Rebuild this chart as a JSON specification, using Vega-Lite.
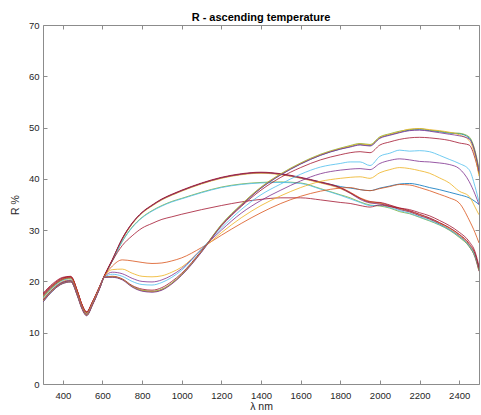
{
"$schema": "https://vega.github.io/schema/vega-lite/v6.json",
"width": 436, "height": 359,
"autosize": {"type": "none"},
"padding": {"left": 43, "top": 25, "right": 2, "bottom": 31},
"background": "white",
"title": {"text": "R - ascending temperature", "fontSize": 11, "fontWeight": "bold", "font": "Liberation Sans", "color": "#000000", "offset": -3, "anchor": "middle", "frame": "group"},
"data": {"values": [
{"s":"s01","x":300,"y":17.0},{"s":"s01","x":350,"y":19.0},{"s":"s01","x":400,"y":20.4},{"s":"s01","x":440,"y":20.7},{"s":"s01","x":475,"y":17.8},{"s":"s01","x":495,"y":15.5},{"s":"s01","x":520,"y":13.9},{"s":"s01","x":550,"y":15.9},{"s":"s01","x":585,"y":18.8},{"s":"s01","x":610,"y":21.1},
{"s":"s01","x":650,"y":24.2},{"s":"s01","x":700,"y":28.3},{"s":"s01","x":750,"y":31.3},{"s":"s01","x":800,"y":33.4},{"s":"s01","x":850,"y":34.8},{"s":"s01","x":900,"y":36.0},{"s":"s01","x":950,"y":36.9},{"s":"s01","x":1000,"y":37.7},{"s":"s01","x":1100,"y":39.1},{"s":"s01","x":1200,"y":40.2},{"s":"s01","x":1300,"y":40.9},{"s":"s01","x":1400,"y":41.2},{"s":"s01","x":1500,"y":40.9},{"s":"s01","x":1600,"y":40.2},{"s":"s01","x":1700,"y":39.4},{"s":"s01","x":1800,"y":38.5},
{"s":"s01","x":1850,"y":38.2},{"s":"s01","x":1900,"y":37.9},{"s":"s01","x":1950,"y":37.7},{"s":"s01","x":2000,"y":38.2},{"s":"s01","x":2050,"y":38.6},{"s":"s01","x":2100,"y":39.0},{"s":"s01","x":2150,"y":39.1},{"s":"s01","x":2200,"y":38.8},{"s":"s01","x":2250,"y":38.3},{"s":"s01","x":2300,"y":37.9},{"s":"s01","x":2350,"y":37.4},{"s":"s01","x":2400,"y":36.9},{"s":"s01","x":2450,"y":36.3},{"s":"s01","x":2480,"y":35.6},{"s":"s01","x":2500,"y":35.0},

{"s":"s02","x":300,"y":17.4},{"s":"s02","x":350,"y":19.3},{"s":"s02","x":400,"y":20.6},{"s":"s02","x":440,"y":20.9},{"s":"s02","x":475,"y":17.9},{"s":"s02","x":495,"y":15.6},{"s":"s02","x":520,"y":14.0},{"s":"s02","x":550,"y":16.0},{"s":"s02","x":585,"y":18.9},{"s":"s02","x":610,"y":21.1},
{"s":"s02","x":650,"y":24.2},{"s":"s02","x":700,"y":28.3},{"s":"s02","x":750,"y":31.3},{"s":"s02","x":800,"y":33.4},{"s":"s02","x":850,"y":34.8},{"s":"s02","x":900,"y":36.0},{"s":"s02","x":950,"y":36.9},{"s":"s02","x":1000,"y":37.7},{"s":"s02","x":1100,"y":39.1},{"s":"s02","x":1200,"y":40.2},{"s":"s02","x":1300,"y":40.9},{"s":"s02","x":1400,"y":41.2},{"s":"s02","x":1500,"y":40.9},{"s":"s02","x":1600,"y":40.2},{"s":"s02","x":1700,"y":39.3},{"s":"s02","x":1800,"y":38.3},
{"s":"s02","x":1850,"y":37.4},{"s":"s02","x":1900,"y":36.3},{"s":"s02","x":1950,"y":35.6},{"s":"s02","x":2000,"y":35.3},{"s":"s02","x":2050,"y":34.8},{"s":"s02","x":2100,"y":34.2},{"s":"s02","x":2150,"y":33.7},{"s":"s02","x":2200,"y":33.0},{"s":"s02","x":2250,"y":32.3},{"s":"s02","x":2300,"y":31.4},{"s":"s02","x":2350,"y":30.4},{"s":"s02","x":2400,"y":29.1},{"s":"s02","x":2450,"y":27.2},{"s":"s02","x":2480,"y":25.2},{"s":"s02","x":2500,"y":22.3},

{"s":"s03","x":300,"y":17.2},{"s":"s03","x":350,"y":19.2},{"s":"s03","x":400,"y":20.5},{"s":"s03","x":440,"y":20.8},{"s":"s03","x":475,"y":17.8},{"s":"s03","x":495,"y":15.5},{"s":"s03","x":520,"y":13.9},{"s":"s03","x":550,"y":15.9},{"s":"s03","x":585,"y":18.8},{"s":"s03","x":610,"y":21.0},
{"s":"s03","x":650,"y":24.1},{"s":"s03","x":700,"y":28.2},{"s":"s03","x":750,"y":31.2},{"s":"s03","x":800,"y":33.3},{"s":"s03","x":850,"y":34.7},{"s":"s03","x":900,"y":35.9},{"s":"s03","x":950,"y":36.8},{"s":"s03","x":1000,"y":37.6},{"s":"s03","x":1100,"y":39.0},{"s":"s03","x":1200,"y":40.1},{"s":"s03","x":1300,"y":40.8},{"s":"s03","x":1400,"y":41.1},{"s":"s03","x":1500,"y":40.8},{"s":"s03","x":1600,"y":40.1},{"s":"s03","x":1700,"y":39.2},{"s":"s03","x":1800,"y":38.1},
{"s":"s03","x":1850,"y":37.2},{"s":"s03","x":1900,"y":36.2},{"s":"s03","x":1950,"y":35.4},{"s":"s03","x":2000,"y":35.2},{"s":"s03","x":2050,"y":34.6},{"s":"s03","x":2100,"y":34.1},{"s":"s03","x":2150,"y":33.5},{"s":"s03","x":2200,"y":32.9},{"s":"s03","x":2250,"y":32.1},{"s":"s03","x":2300,"y":31.3},{"s":"s03","x":2350,"y":30.2},{"s":"s03","x":2400,"y":28.9},{"s":"s03","x":2450,"y":27.0},{"s":"s03","x":2480,"y":25.0},{"s":"s03","x":2500,"y":22.0},

{"s":"s04","x":300,"y":17.3},{"s":"s04","x":350,"y":19.2},{"s":"s04","x":400,"y":20.5},{"s":"s04","x":440,"y":20.8},{"s":"s04","x":475,"y":17.9},{"s":"s04","x":495,"y":15.6},{"s":"s04","x":520,"y":14.0},{"s":"s04","x":550,"y":16.0},{"s":"s04","x":585,"y":18.9},{"s":"s04","x":610,"y":21.1},
{"s":"s04","x":650,"y":24.2},{"s":"s04","x":700,"y":28.3},{"s":"s04","x":750,"y":31.3},{"s":"s04","x":800,"y":33.4},{"s":"s04","x":850,"y":34.8},{"s":"s04","x":900,"y":36.0},{"s":"s04","x":950,"y":36.9},{"s":"s04","x":1000,"y":37.7},{"s":"s04","x":1100,"y":39.1},{"s":"s04","x":1200,"y":40.2},{"s":"s04","x":1300,"y":40.9},{"s":"s04","x":1400,"y":41.2},{"s":"s04","x":1500,"y":40.9},{"s":"s04","x":1600,"y":40.2},{"s":"s04","x":1700,"y":39.3},{"s":"s04","x":1800,"y":38.2},
{"s":"s04","x":1850,"y":37.2},{"s":"s04","x":1900,"y":36.0},{"s":"s04","x":1950,"y":35.3},{"s":"s04","x":2000,"y":35.1},{"s":"s04","x":2050,"y":34.7},{"s":"s04","x":2100,"y":34.0},{"s":"s04","x":2150,"y":33.6},{"s":"s04","x":2200,"y":32.8},{"s":"s04","x":2250,"y":32.2},{"s":"s04","x":2300,"y":31.2},{"s":"s04","x":2350,"y":30.1},{"s":"s04","x":2400,"y":28.8},{"s":"s04","x":2450,"y":26.9},{"s":"s04","x":2480,"y":24.7},{"s":"s04","x":2500,"y":22.0},

{"s":"s05","x":300,"y":16.9},{"s":"s05","x":350,"y":18.9},{"s":"s05","x":400,"y":20.3},{"s":"s05","x":440,"y":20.6},{"s":"s05","x":475,"y":17.7},{"s":"s05","x":495,"y":15.4},{"s":"s05","x":520,"y":13.8},{"s":"s05","x":550,"y":15.8},{"s":"s05","x":585,"y":18.8},{"s":"s05","x":610,"y":21.0},
{"s":"s05","x":650,"y":24.0},{"s":"s05","x":700,"y":27.8},{"s":"s05","x":750,"y":30.6},{"s":"s05","x":800,"y":32.5},{"s":"s05","x":850,"y":33.8},{"s":"s05","x":900,"y":34.8},{"s":"s05","x":950,"y":35.6},{"s":"s05","x":1000,"y":36.2},{"s":"s05","x":1100,"y":37.4},{"s":"s05","x":1200,"y":38.4},{"s":"s05","x":1300,"y":39.0},{"s":"s05","x":1400,"y":39.3},{"s":"s05","x":1500,"y":39.4},{"s":"s05","x":1600,"y":39.2},{"s":"s05","x":1700,"y":38.1},{"s":"s05","x":1800,"y":36.9},
{"s":"s05","x":1850,"y":36.3},{"s":"s05","x":1900,"y":35.5},{"s":"s05","x":1950,"y":34.9},{"s":"s05","x":2000,"y":34.7},{"s":"s05","x":2050,"y":34.3},{"s":"s05","x":2100,"y":33.6},{"s":"s05","x":2150,"y":33.2},{"s":"s05","x":2200,"y":32.5},{"s":"s05","x":2250,"y":31.8},{"s":"s05","x":2300,"y":31.0},{"s":"s05","x":2350,"y":30.0},{"s":"s05","x":2400,"y":28.6},{"s":"s05","x":2450,"y":26.8},{"s":"s05","x":2480,"y":24.8},{"s":"s05","x":2500,"y":22.2},

{"s":"s06","x":300,"y":16.8},{"s":"s06","x":350,"y":18.8},{"s":"s06","x":400,"y":20.2},{"s":"s06","x":440,"y":20.5},{"s":"s06","x":475,"y":17.6},{"s":"s06","x":495,"y":15.4},{"s":"s06","x":520,"y":13.8},{"s":"s06","x":550,"y":15.8},{"s":"s06","x":585,"y":18.7},{"s":"s06","x":610,"y":21.0},
{"s":"s06","x":650,"y":24.0},{"s":"s06","x":700,"y":27.8},{"s":"s06","x":750,"y":30.5},{"s":"s06","x":800,"y":32.4},{"s":"s06","x":850,"y":33.7},{"s":"s06","x":900,"y":34.7},{"s":"s06","x":950,"y":35.5},{"s":"s06","x":1000,"y":36.1},{"s":"s06","x":1100,"y":37.3},{"s":"s06","x":1200,"y":38.3},{"s":"s06","x":1300,"y":38.9},{"s":"s06","x":1400,"y":39.2},{"s":"s06","x":1500,"y":39.3},{"s":"s06","x":1600,"y":39.1},{"s":"s06","x":1700,"y":38.0},{"s":"s06","x":1800,"y":36.8},
{"s":"s06","x":1850,"y":36.1},{"s":"s06","x":1900,"y":35.4},{"s":"s06","x":1950,"y":34.8},{"s":"s06","x":2000,"y":34.8},{"s":"s06","x":2050,"y":34.4},{"s":"s06","x":2100,"y":33.8},{"s":"s06","x":2150,"y":33.3},{"s":"s06","x":2200,"y":32.6},{"s":"s06","x":2250,"y":31.9},{"s":"s06","x":2300,"y":31.1},{"s":"s06","x":2350,"y":30.1},{"s":"s06","x":2400,"y":28.8},{"s":"s06","x":2450,"y":27.0},{"s":"s06","x":2480,"y":25.1},{"s":"s06","x":2500,"y":22.6},

{"s":"s07","x":300,"y":17.7},{"s":"s07","x":350,"y":19.6},{"s":"s07","x":400,"y":20.8},{"s":"s07","x":440,"y":21.0},{"s":"s07","x":475,"y":18.0},{"s":"s07","x":495,"y":15.7},{"s":"s07","x":520,"y":14.1},{"s":"s07","x":550,"y":16.1},{"s":"s07","x":585,"y":19.0},{"s":"s07","x":610,"y":21.2},
{"s":"s07","x":650,"y":24.3},{"s":"s07","x":700,"y":28.4},{"s":"s07","x":750,"y":31.4},{"s":"s07","x":800,"y":33.5},{"s":"s07","x":850,"y":34.9},{"s":"s07","x":900,"y":36.1},{"s":"s07","x":950,"y":37.0},{"s":"s07","x":1000,"y":37.8},{"s":"s07","x":1100,"y":39.2},{"s":"s07","x":1200,"y":40.3},{"s":"s07","x":1300,"y":41.0},{"s":"s07","x":1400,"y":41.3},{"s":"s07","x":1500,"y":41.0},{"s":"s07","x":1600,"y":40.3},{"s":"s07","x":1700,"y":39.4},{"s":"s07","x":1800,"y":38.3},
{"s":"s07","x":1850,"y":37.3},{"s":"s07","x":1900,"y":36.2},{"s":"s07","x":1950,"y":35.5},{"s":"s07","x":2000,"y":35.4},{"s":"s07","x":2050,"y":34.9},{"s":"s07","x":2100,"y":34.3},{"s":"s07","x":2150,"y":33.8},{"s":"s07","x":2200,"y":33.1},{"s":"s07","x":2250,"y":32.4},{"s":"s07","x":2300,"y":31.5},{"s":"s07","x":2350,"y":30.5},{"s":"s07","x":2400,"y":29.2},{"s":"s07","x":2450,"y":27.4},{"s":"s07","x":2480,"y":25.4},{"s":"s07","x":2500,"y":22.5},

{"s":"s08","x":300,"y":17.5},{"s":"s08","x":350,"y":19.4},{"s":"s08","x":400,"y":20.7},{"s":"s08","x":440,"y":20.9},{"s":"s08","x":475,"y":17.9},{"s":"s08","x":495,"y":15.6},{"s":"s08","x":520,"y":14.0},{"s":"s08","x":550,"y":16.0},{"s":"s08","x":585,"y":18.9},{"s":"s08","x":610,"y":21.1},
{"s":"s08","x":650,"y":24.0},{"s":"s08","x":700,"y":27.0},{"s":"s08","x":750,"y":28.9},{"s":"s08","x":800,"y":30.4},{"s":"s08","x":850,"y":31.3},{"s":"s08","x":900,"y":32.1},{"s":"s08","x":950,"y":32.6},{"s":"s08","x":1000,"y":33.1},{"s":"s08","x":1100,"y":34.0},{"s":"s08","x":1200,"y":34.8},{"s":"s08","x":1300,"y":35.5},{"s":"s08","x":1400,"y":36.0},{"s":"s08","x":1500,"y":36.3},{"s":"s08","x":1600,"y":36.3},{"s":"s08","x":1700,"y":35.9},{"s":"s08","x":1800,"y":35.4},
{"s":"s08","x":1850,"y":35.2},{"s":"s08","x":1900,"y":34.8},{"s":"s08","x":1950,"y":34.5},{"s":"s08","x":2000,"y":34.9},{"s":"s08","x":2050,"y":34.6},{"s":"s08","x":2100,"y":34.3},{"s":"s08","x":2150,"y":34.0},{"s":"s08","x":2200,"y":33.4},{"s":"s08","x":2250,"y":32.8},{"s":"s08","x":2300,"y":31.9},{"s":"s08","x":2350,"y":30.9},{"s":"s08","x":2400,"y":29.6},{"s":"s08","x":2450,"y":27.8},{"s":"s08","x":2480,"y":25.8},{"s":"s08","x":2500,"y":23.0},

{"s":"s09","x":300,"y":16.0},{"s":"s09","x":350,"y":18.2},{"s":"s09","x":400,"y":19.6},{"s":"s09","x":440,"y":19.9},{"s":"s09","x":475,"y":17.1},{"s":"s09","x":495,"y":14.9},{"s":"s09","x":520,"y":13.4},{"s":"s09","x":550,"y":15.5},{"s":"s09","x":585,"y":18.6},{"s":"s09","x":610,"y":20.8},
{"s":"s09","x":650,"y":20.9},{"s":"s09","x":700,"y":20.4},{"s":"s09","x":750,"y":19.0},{"s":"s09","x":800,"y":18.2},{"s":"s09","x":850,"y":18.0},{"s":"s09","x":900,"y":18.4},{"s":"s09","x":950,"y":19.6},{"s":"s09","x":1000,"y":21.3},{"s":"s09","x":1100,"y":25.8},{"s":"s09","x":1200,"y":31.0},{"s":"s09","x":1300,"y":34.8},{"s":"s09","x":1400,"y":38.2},{"s":"s09","x":1500,"y":40.8},{"s":"s09","x":1600,"y":42.9},{"s":"s09","x":1700,"y":44.6},{"s":"s09","x":1800,"y":45.8},
{"s":"s09","x":1850,"y":46.3},{"s":"s09","x":1900,"y":46.7},{"s":"s09","x":1950,"y":46.5},{"s":"s09","x":2000,"y":48.0},{"s":"s09","x":2050,"y":48.6},{"s":"s09","x":2100,"y":49.1},{"s":"s09","x":2150,"y":49.5},{"s":"s09","x":2200,"y":49.6},{"s":"s09","x":2250,"y":49.4},{"s":"s09","x":2300,"y":49.2},{"s":"s09","x":2350,"y":48.9},{"s":"s09","x":2400,"y":48.8},{"s":"s09","x":2450,"y":48.0},{"s":"s09","x":2480,"y":45.0},{"s":"s09","x":2500,"y":41.0},

{"s":"s10","x":300,"y":17.1},{"s":"s10","x":350,"y":19.1},{"s":"s10","x":400,"y":20.4},{"s":"s10","x":440,"y":20.7},{"s":"s10","x":475,"y":17.8},{"s":"s10","x":495,"y":15.5},{"s":"s10","x":520,"y":13.9},{"s":"s10","x":550,"y":15.9},{"s":"s10","x":585,"y":18.8},{"s":"s10","x":610,"y":21.0},
{"s":"s10","x":650,"y":23.0},{"s":"s10","x":700,"y":24.2},{"s":"s10","x":750,"y":24.0},{"s":"s10","x":800,"y":23.7},{"s":"s10","x":850,"y":23.5},{"s":"s10","x":900,"y":23.6},{"s":"s10","x":950,"y":24.0},{"s":"s10","x":1000,"y":24.6},{"s":"s10","x":1100,"y":26.6},{"s":"s10","x":1200,"y":29.0},{"s":"s10","x":1300,"y":31.3},{"s":"s10","x":1400,"y":33.4},{"s":"s10","x":1500,"y":35.2},{"s":"s10","x":1600,"y":36.6},{"s":"s10","x":1700,"y":37.6},{"s":"s10","x":1800,"y":38.2},
{"s":"s10","x":1850,"y":38.3},{"s":"s10","x":1900,"y":37.9},{"s":"s10","x":1950,"y":37.7},{"s":"s10","x":2000,"y":38.1},{"s":"s10","x":2050,"y":38.5},{"s":"s10","x":2100,"y":38.9},{"s":"s10","x":2150,"y":38.8},{"s":"s10","x":2200,"y":38.3},{"s":"s10","x":2250,"y":37.7},{"s":"s10","x":2300,"y":37.0},{"s":"s10","x":2350,"y":36.3},{"s":"s10","x":2400,"y":35.3},{"s":"s10","x":2450,"y":32.0},{"s":"s10","x":2480,"y":29.5},{"s":"s10","x":2500,"y":27.5},

{"s":"s11","x":300,"y":16.6},{"s":"s11","x":350,"y":18.6},{"s":"s11","x":400,"y":20.0},{"s":"s11","x":440,"y":20.3},{"s":"s11","x":475,"y":17.4},{"s":"s11","x":495,"y":15.2},{"s":"s11","x":520,"y":13.7},{"s":"s11","x":550,"y":15.7},{"s":"s11","x":585,"y":18.7},{"s":"s11","x":610,"y":20.9},
{"s":"s11","x":650,"y":22.3},{"s":"s11","x":700,"y":22.4},{"s":"s11","x":750,"y":21.6},{"s":"s11","x":800,"y":21.0},{"s":"s11","x":850,"y":20.9},{"s":"s11","x":900,"y":21.1},{"s":"s11","x":950,"y":21.8},{"s":"s11","x":1000,"y":22.8},{"s":"s11","x":1100,"y":26.2},{"s":"s11","x":1200,"y":29.5},{"s":"s11","x":1300,"y":32.4},{"s":"s11","x":1400,"y":34.8},{"s":"s11","x":1500,"y":36.7},{"s":"s11","x":1600,"y":38.3},{"s":"s11","x":1700,"y":39.5},{"s":"s11","x":1800,"y":40.1},
{"s":"s11","x":1850,"y":40.3},{"s":"s11","x":1900,"y":40.4},{"s":"s11","x":1950,"y":40.1},{"s":"s11","x":2000,"y":41.2},{"s":"s11","x":2050,"y":41.8},{"s":"s11","x":2100,"y":42.2},{"s":"s11","x":2150,"y":42.0},{"s":"s11","x":2200,"y":41.6},{"s":"s11","x":2250,"y":41.1},{"s":"s11","x":2300,"y":40.2},{"s":"s11","x":2350,"y":39.2},{"s":"s11","x":2400,"y":37.6},{"s":"s11","x":2450,"y":36.6},{"s":"s11","x":2480,"y":34.5},{"s":"s11","x":2500,"y":33.0},

{"s":"s12","x":300,"y":16.4},{"s":"s12","x":350,"y":18.5},{"s":"s12","x":400,"y":19.9},{"s":"s12","x":440,"y":20.2},{"s":"s12","x":475,"y":17.3},{"s":"s12","x":495,"y":15.1},{"s":"s12","x":520,"y":13.6},{"s":"s12","x":550,"y":15.6},{"s":"s12","x":585,"y":18.6},{"s":"s12","x":610,"y":20.9},
{"s":"s12","x":650,"y":21.8},{"s":"s12","x":700,"y":21.5},{"s":"s12","x":750,"y":20.6},{"s":"s12","x":800,"y":20.0},{"s":"s12","x":850,"y":19.9},{"s":"s12","x":900,"y":20.3},{"s":"s12","x":950,"y":21.2},{"s":"s12","x":1000,"y":22.5},{"s":"s12","x":1100,"y":26.3},{"s":"s12","x":1200,"y":30.0},{"s":"s12","x":1300,"y":33.3},{"s":"s12","x":1400,"y":35.8},{"s":"s12","x":1500,"y":37.8},{"s":"s12","x":1600,"y":39.6},{"s":"s12","x":1700,"y":41.0},{"s":"s12","x":1800,"y":41.7},
{"s":"s12","x":1850,"y":41.9},{"s":"s12","x":1900,"y":42.0},{"s":"s12","x":1950,"y":41.8},{"s":"s12","x":2000,"y":43.0},{"s":"s12","x":2050,"y":43.6},{"s":"s12","x":2100,"y":43.9},{"s":"s12","x":2150,"y":43.7},{"s":"s12","x":2200,"y":43.4},{"s":"s12","x":2250,"y":43.3},{"s":"s12","x":2300,"y":43.1},{"s":"s12","x":2350,"y":42.8},{"s":"s12","x":2400,"y":42.0},{"s":"s12","x":2450,"y":39.5},{"s":"s12","x":2480,"y":37.0},{"s":"s12","x":2500,"y":35.0},

{"s":"s13","x":300,"y":16.1},{"s":"s13","x":350,"y":18.3},{"s":"s13","x":400,"y":19.7},{"s":"s13","x":440,"y":20.0},{"s":"s13","x":475,"y":17.1},{"s":"s13","x":495,"y":14.9},{"s":"s13","x":520,"y":13.4},{"s":"s13","x":550,"y":15.5},{"s":"s13","x":585,"y":18.6},{"s":"s13","x":610,"y":20.8},
{"s":"s13","x":650,"y":20.9},{"s":"s13","x":700,"y":20.4},{"s":"s13","x":750,"y":19.1},{"s":"s13","x":800,"y":18.3},{"s":"s13","x":850,"y":18.1},{"s":"s13","x":900,"y":18.5},{"s":"s13","x":950,"y":19.7},{"s":"s13","x":1000,"y":21.4},{"s":"s13","x":1100,"y":25.9},{"s":"s13","x":1200,"y":31.1},{"s":"s13","x":1300,"y":35.0},{"s":"s13","x":1400,"y":38.4},{"s":"s13","x":1500,"y":41.0},{"s":"s13","x":1600,"y":43.1},{"s":"s13","x":1700,"y":44.8},{"s":"s13","x":1800,"y":46.0},
{"s":"s13","x":1850,"y":46.5},{"s":"s13","x":1900,"y":46.9},{"s":"s13","x":1950,"y":46.7},{"s":"s13","x":2000,"y":48.2},{"s":"s13","x":2050,"y":48.8},{"s":"s13","x":2100,"y":49.3},{"s":"s13","x":2150,"y":49.6},{"s":"s13","x":2200,"y":49.8},{"s":"s13","x":2250,"y":49.5},{"s":"s13","x":2300,"y":49.3},{"s":"s13","x":2350,"y":49.0},{"s":"s13","x":2400,"y":48.9},{"s":"s13","x":2450,"y":48.2},{"s":"s13","x":2480,"y":45.5},{"s":"s13","x":2500,"y":42.0},

{"s":"s14","x":300,"y":16.2},{"s":"s14","x":350,"y":18.4},{"s":"s14","x":400,"y":19.8},{"s":"s14","x":440,"y":20.1},{"s":"s14","x":475,"y":17.2},{"s":"s14","x":495,"y":15.0},{"s":"s14","x":520,"y":13.5},{"s":"s14","x":550,"y":15.6},{"s":"s14","x":585,"y":18.6},{"s":"s14","x":610,"y":20.8},
{"s":"s14","x":650,"y":21.4},{"s":"s14","x":700,"y":21.0},{"s":"s14","x":750,"y":20.0},{"s":"s14","x":800,"y":19.4},{"s":"s14","x":850,"y":19.3},{"s":"s14","x":900,"y":19.8},{"s":"s14","x":950,"y":20.8},{"s":"s14","x":1000,"y":22.2},{"s":"s14","x":1100,"y":26.3},{"s":"s14","x":1200,"y":30.4},{"s":"s14","x":1300,"y":34.0},{"s":"s14","x":1400,"y":36.9},{"s":"s14","x":1500,"y":39.0},{"s":"s14","x":1600,"y":40.9},{"s":"s14","x":1700,"y":42.3},{"s":"s14","x":1800,"y":43.0},
{"s":"s14","x":1850,"y":43.3},{"s":"s14","x":1900,"y":43.3},{"s":"s14","x":1950,"y":42.6},{"s":"s14","x":2000,"y":44.4},{"s":"s14","x":2050,"y":45.0},{"s":"s14","x":2100,"y":45.6},{"s":"s14","x":2150,"y":45.4},{"s":"s14","x":2200,"y":45.5},{"s":"s14","x":2250,"y":45.3},{"s":"s14","x":2300,"y":44.6},{"s":"s14","x":2350,"y":43.8},{"s":"s14","x":2400,"y":43.0},{"s":"s14","x":2450,"y":41.8},{"s":"s14","x":2480,"y":38.5},{"s":"s14","x":2500,"y":35.5},

{"s":"s15","x":300,"y":16.3},{"s":"s15","x":350,"y":18.4},{"s":"s15","x":400,"y":19.8},{"s":"s15","x":440,"y":20.1},{"s":"s15","x":475,"y":17.2},{"s":"s15","x":495,"y":15.0},{"s":"s15","x":520,"y":13.5},{"s":"s15","x":550,"y":15.5},{"s":"s15","x":585,"y":18.6},{"s":"s15","x":610,"y":20.8},
{"s":"s15","x":650,"y":21.0},{"s":"s15","x":700,"y":20.5},{"s":"s15","x":750,"y":19.2},{"s":"s15","x":800,"y":18.5},{"s":"s15","x":850,"y":18.3},{"s":"s15","x":900,"y":18.8},{"s":"s15","x":950,"y":20.0},{"s":"s15","x":1000,"y":21.6},{"s":"s15","x":1100,"y":26.0},{"s":"s15","x":1200,"y":30.8},{"s":"s15","x":1300,"y":34.6},{"s":"s15","x":1400,"y":37.8},{"s":"s15","x":1500,"y":40.3},{"s":"s15","x":1600,"y":42.2},{"s":"s15","x":1700,"y":43.7},{"s":"s15","x":1800,"y":44.7},
{"s":"s15","x":1850,"y":45.1},{"s":"s15","x":1900,"y":45.3},{"s":"s15","x":1950,"y":45.1},{"s":"s15","x":2000,"y":46.6},{"s":"s15","x":2050,"y":47.2},{"s":"s15","x":2100,"y":47.7},{"s":"s15","x":2150,"y":48.0},{"s":"s15","x":2200,"y":48.1},{"s":"s15","x":2250,"y":48.0},{"s":"s15","x":2300,"y":47.8},{"s":"s15","x":2350,"y":47.5},{"s":"s15","x":2400,"y":47.0},{"s":"s15","x":2450,"y":46.6},{"s":"s15","x":2480,"y":44.0},{"s":"s15","x":2500,"y":41.0},

{"s":"s16","x":300,"y":16.1},{"s":"s16","x":350,"y":18.3},{"s":"s16","x":400,"y":19.6},{"s":"s16","x":440,"y":19.9},{"s":"s16","x":475,"y":17.1},{"s":"s16","x":495,"y":14.9},{"s":"s16","x":520,"y":13.4},{"s":"s16","x":550,"y":15.5},{"s":"s16","x":585,"y":18.6},{"s":"s16","x":610,"y":20.8},
{"s":"s16","x":650,"y":20.9},{"s":"s16","x":700,"y":20.4},{"s":"s16","x":750,"y":19.0},{"s":"s16","x":800,"y":18.2},{"s":"s16","x":850,"y":18.0},{"s":"s16","x":900,"y":18.4},{"s":"s16","x":950,"y":19.6},{"s":"s16","x":1000,"y":21.3},{"s":"s16","x":1100,"y":25.8},{"s":"s16","x":1200,"y":31.0},{"s":"s16","x":1300,"y":34.9},{"s":"s16","x":1400,"y":38.3},{"s":"s16","x":1500,"y":40.9},{"s":"s16","x":1600,"y":43.0},{"s":"s16","x":1700,"y":44.7},{"s":"s16","x":1800,"y":45.9},
{"s":"s16","x":1850,"y":46.4},{"s":"s16","x":1900,"y":46.8},{"s":"s16","x":1950,"y":46.6},{"s":"s16","x":2000,"y":48.1},{"s":"s16","x":2050,"y":48.7},{"s":"s16","x":2100,"y":49.2},{"s":"s16","x":2150,"y":49.7},{"s":"s16","x":2200,"y":49.8},{"s":"s16","x":2250,"y":49.6},{"s":"s16","x":2300,"y":49.4},{"s":"s16","x":2350,"y":49.1},{"s":"s16","x":2400,"y":48.6},{"s":"s16","x":2450,"y":47.5},{"s":"s16","x":2480,"y":44.5},{"s":"s16","x":2500,"y":40.5},

{"s":"s17","x":300,"y":16.0},{"s":"s17","x":350,"y":18.2},{"s":"s17","x":400,"y":19.6},{"s":"s17","x":440,"y":19.9},{"s":"s17","x":475,"y":17.0},{"s":"s17","x":495,"y":14.8},{"s":"s17","x":520,"y":13.3},{"s":"s17","x":550,"y":15.4},{"s":"s17","x":585,"y":18.5},{"s":"s17","x":610,"y":20.8},
{"s":"s17","x":650,"y":20.8},{"s":"s17","x":700,"y":20.3},{"s":"s17","x":750,"y":18.9},{"s":"s17","x":800,"y":18.1},{"s":"s17","x":850,"y":17.9},{"s":"s17","x":900,"y":18.3},{"s":"s17","x":950,"y":19.5},{"s":"s17","x":1000,"y":21.2},{"s":"s17","x":1100,"y":25.7},{"s":"s17","x":1200,"y":30.9},{"s":"s17","x":1300,"y":34.8},{"s":"s17","x":1400,"y":38.2},{"s":"s17","x":1500,"y":40.8},{"s":"s17","x":1600,"y":42.9},{"s":"s17","x":1700,"y":44.6},{"s":"s17","x":1800,"y":45.8},
{"s":"s17","x":1850,"y":46.2},{"s":"s17","x":1900,"y":46.6},{"s":"s17","x":1950,"y":46.4},{"s":"s17","x":2000,"y":47.9},{"s":"s17","x":2050,"y":48.5},{"s":"s17","x":2100,"y":49.0},{"s":"s17","x":2150,"y":49.4},{"s":"s17","x":2200,"y":49.5},{"s":"s17","x":2250,"y":49.3},{"s":"s17","x":2300,"y":49.0},{"s":"s17","x":2350,"y":48.7},{"s":"s17","x":2400,"y":48.4},{"s":"s17","x":2450,"y":47.8},{"s":"s17","x":2480,"y":45.2},{"s":"s17","x":2500,"y":41.5}
]},
"layer": [
  {
    "mark": {"type": "line", "strokeWidth": 0.8, "clip": true, "interpolate": "monotone"},
    "encoding": {
      "x": {"field": "x", "type": "quantitative", "scale": {"domain": [300, 2500], "nice": false, "zero": false},
        "axis": {"orient": "bottom", "values": [400, 600, 800, 1000, 1200, 1400, 1600, 1800, 2000, 2200, 2400], "title": "λ nm", "format": "d", "tickSize": -4, "labelPadding": 10, "titlePadding": 2}},
      "y": {"field": "y", "type": "quantitative", "scale": {"domain": [0, 70], "nice": false, "zero": true},
        "axis": {"orient": "left", "values": [0, 10, 20, 30, 40, 50, 60, 70], "title": "R %", "tickSize": -4, "labelPadding": 8, "titlePadding": 8}},
      "color": {"field": "s", "type": "nominal", "legend": null,
        "scale": {"domain": ["s01","s02","s03","s04","s05","s06","s07","s08","s09","s10","s11","s12","s13","s14","s15","s16","s17"],
          "range": ["#0072BD","#D95319","#EDB120","#7E2F8E","#77AC30","#4DBEEE","#A2142F","#A2142F","#0072BD","#D95319","#EDB120","#7E2F8E","#77AC30","#4DBEEE","#A2142F","#EDB120","#7E2F8E"]}}
    }
  },
  {
    "mark": {"type": "line", "opacity": 0},
    "encoding": {
      "x": {"field": "x", "type": "quantitative", "axis": {"orient": "top", "values": [400, 600, 800, 1000, 1200, 1400, 1600, 1800, 2000, 2200, 2400], "labels": false, "title": null, "tickSize": -4}},
      "y": {"field": "y", "type": "quantitative", "axis": {"orient": "right", "values": [0, 10, 20, 30, 40, 50, 60, 70], "labels": false, "title": null, "tickSize": -4}},
      "detail": {"field": "s", "type": "nominal"}
    }
  }
],
"resolve": {"axis": {"x": "independent", "y": "independent"}},
"config": {
  "view": {"stroke": null},
  "axis": {"grid": false, "domainColor": "#8c8c8c", "domainWidth": 1, "tickColor": "#8c8c8c", "tickWidth": 1,
    "labelFont": "Liberation Sans", "labelFontSize": 9.5, "labelColor": "#262626",
    "titleFont": "Liberation Sans", "titleFontSize": 10.5, "titleFontWeight": "normal", "titleColor": "#262626"}
}
}
